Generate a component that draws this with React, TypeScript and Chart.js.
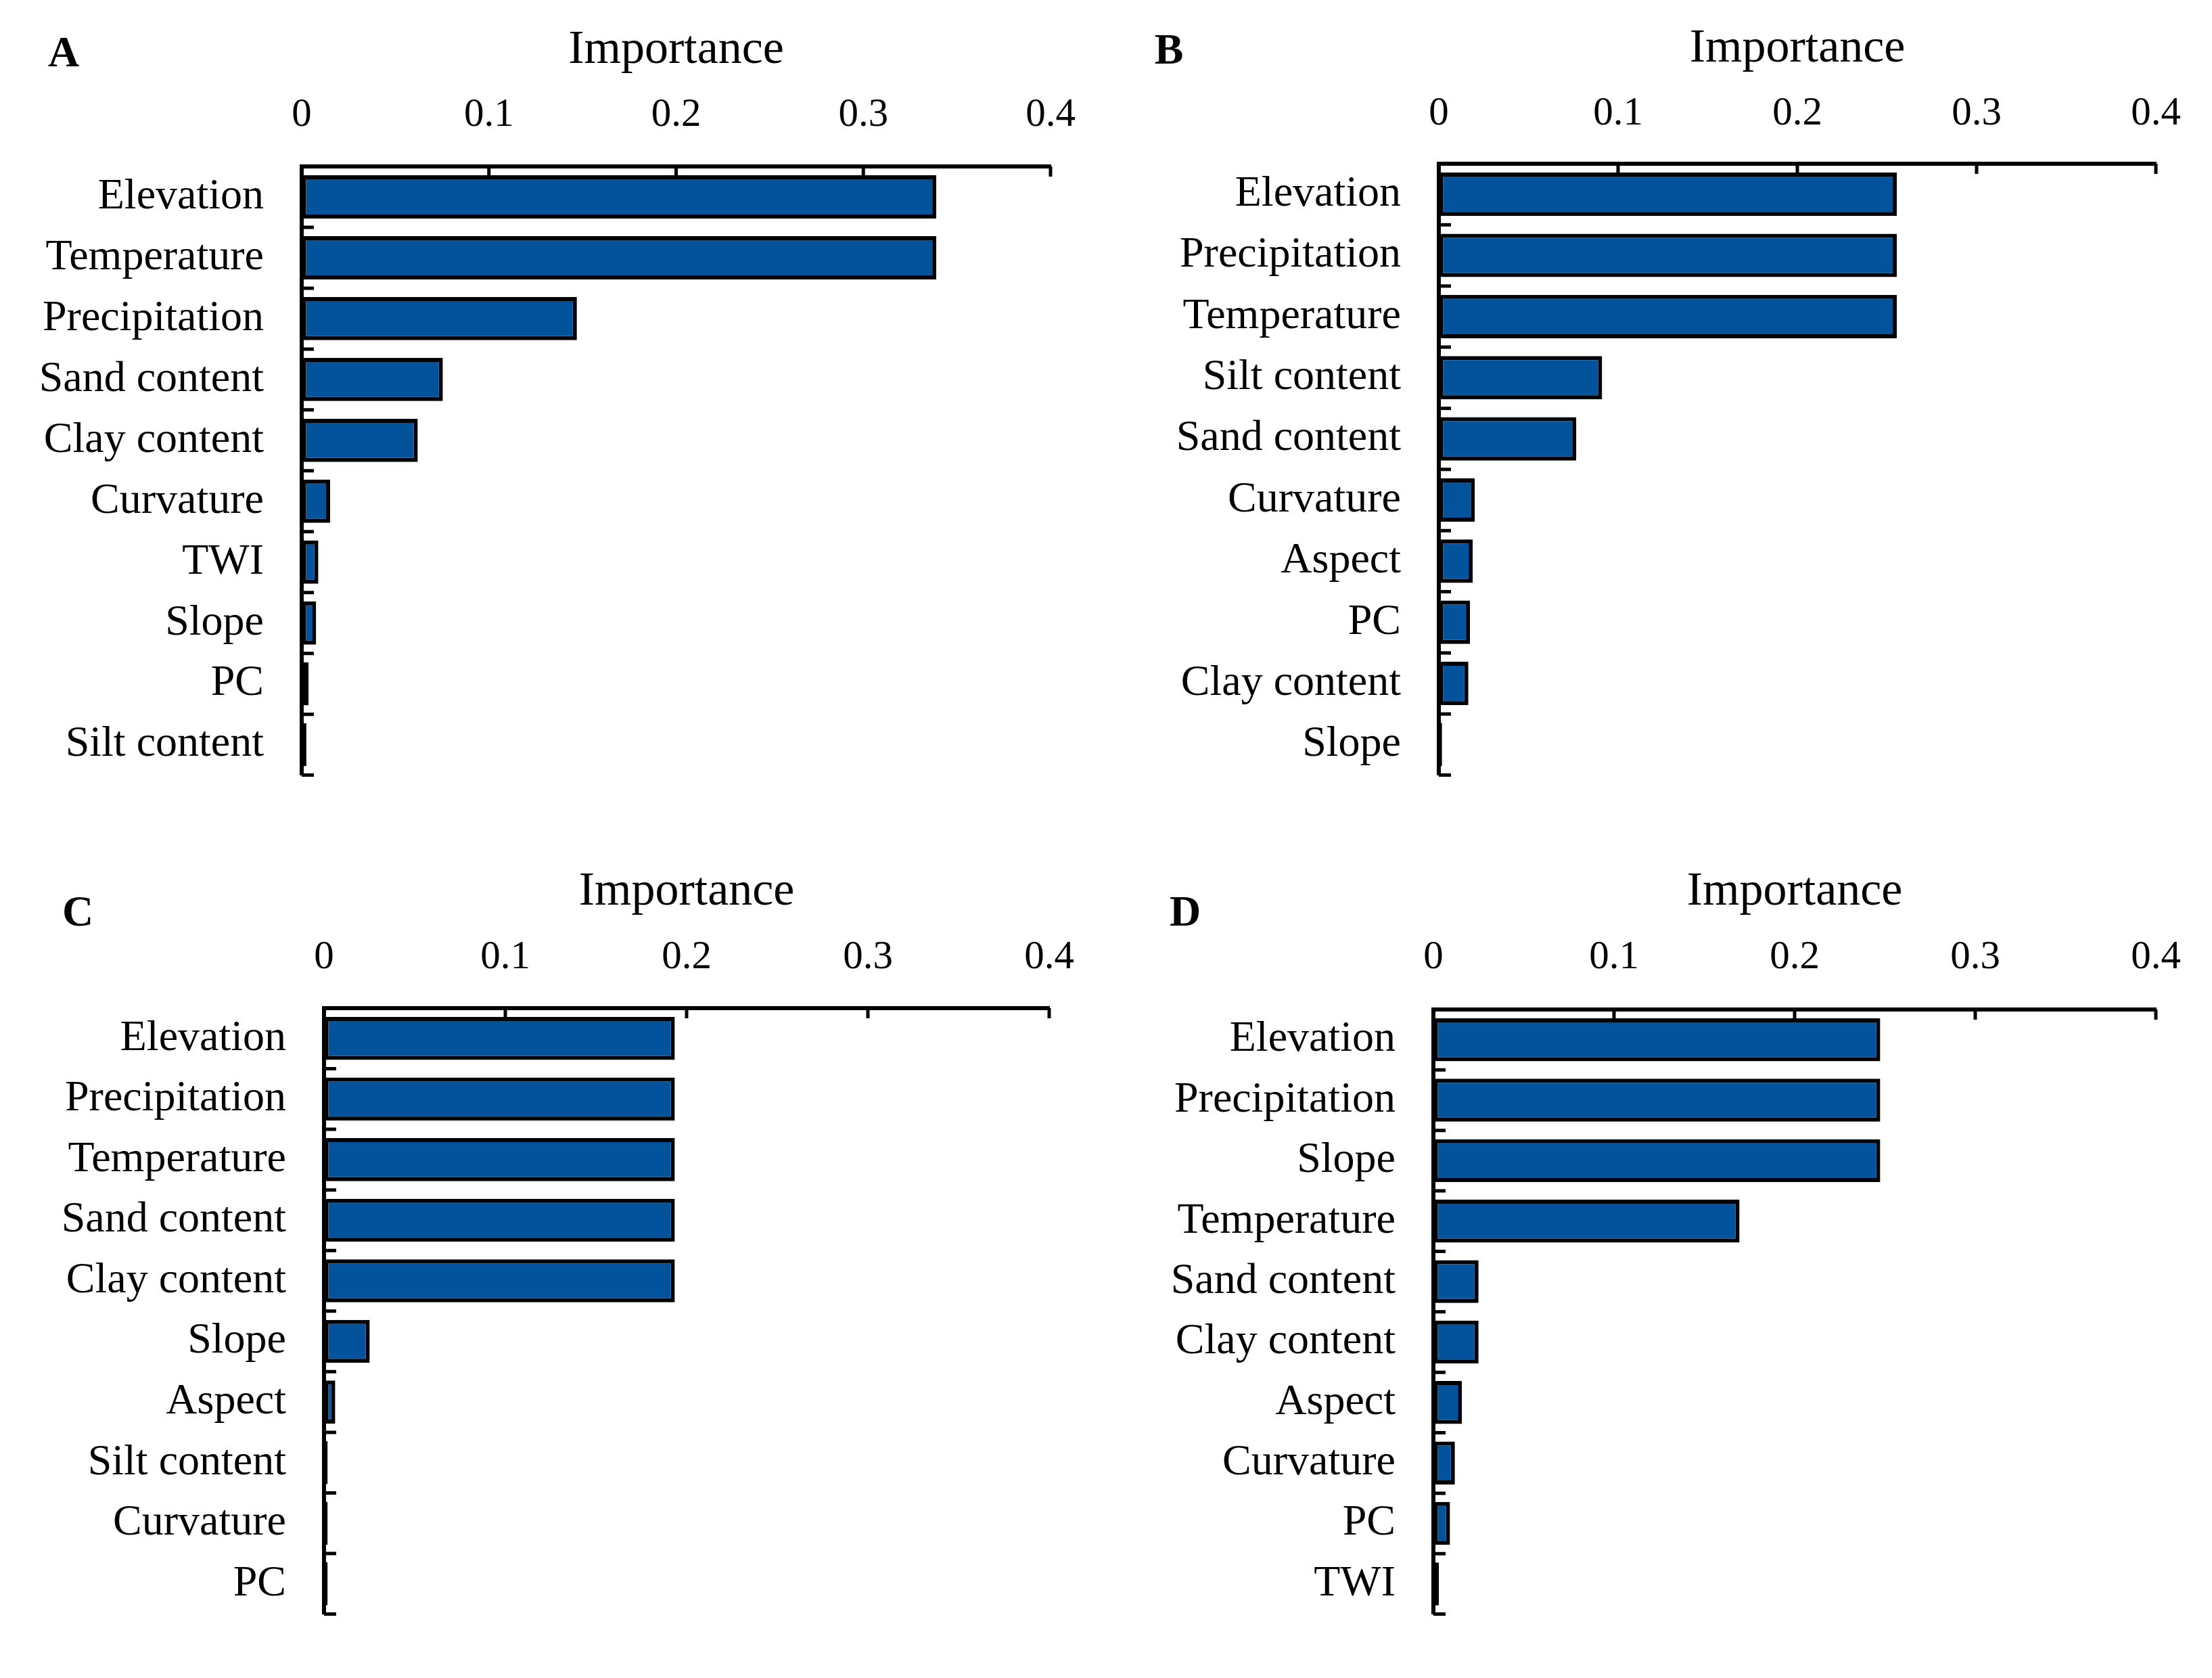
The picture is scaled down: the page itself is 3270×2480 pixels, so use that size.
import React, { useEffect, useRef } from "react";
import { Chart, registerables } from "chart.js";

Chart.register(...registerables);

// ---------------- data ----------------
const xTickValues = [0, 0.1, 0.2, 0.3, 0.4];
const xTickLabels = ["0", "0.1", "0.2", "0.3", "0.4"];
const axisTitle = "Importance";

const catsA = ["Elevation", "Temperature", "Precipitation", "Sand content", "Clay content", "Curvature", "TWI", "Slope", "PC", "Silt content"];
const valsA = [0.339, 0.339, 0.147, 0.0754, 0.062, 0.0152, 0.0089, 0.0077, 0.0037, 0.0025];

const catsB = ["Elevation", "Precipitation", "Temperature", "Silt content", "Sand content", "Curvature", "Aspect", "PC", "Clay content", "Slope"];
const valsB = [0.2555, 0.2555, 0.2555, 0.0911, 0.0767, 0.0201, 0.0189, 0.0174, 0.0165, 0.0018];

const catsC = ["Elevation", "Precipitation", "Temperature", "Sand content", "Clay content", "Slope", "Aspect", "Silt content", "Curvature", "PC"];
const valsC = [0.1935, 0.1935, 0.1935, 0.1935, 0.1935, 0.0252, 0.0062, 0.002, 0.002, 0.002];

const catsD = ["Elevation", "Precipitation", "Slope", "Temperature", "Sand content", "Clay content", "Aspect", "Curvature", "PC", "TWI"];
const valsD = [0.2474, 0.2474, 0.2474, 0.1695, 0.025, 0.025, 0.0158, 0.0119, 0.0092, 0.003];

const panelLetters = ["A", "B", "C", "D"];

// ---------------- layout / style ----------------
const FONT = "'Liberation Serif', 'Times New Roman', serif";
const BAR_COLOR = "#02539C";

type Panel = {
  letter: string;
  cats: string[];
  vals: number[];
  box: { x: number; y: number; w: number; h: number };
  plot: { l: number; t: number; r: number; b: number };
  titleY: number;
  tickY: number;
  letterPos: { x: number; y: number };
};

const panels: Panel[] = [
  { letter: panelLetters[0], cats: catsA, vals: valsA, box: { x: 0, y: 0, w: 1635, h: 1240 }, plot: { l: 446, t: 246, r: 1553, b: 1168 }, titleY: 75, tickY: 170, letterPos: { x: 94, y: 77 } },
  { letter: panelLetters[1], cats: catsB, vals: valsB, box: { x: 1635, y: 0, w: 1635, h: 1240 }, plot: { l: 2127, t: 242, r: 3187, b: 1166 }, titleY: 73, tickY: 168, letterPos: { x: 1728, y: 73 } },
  { letter: panelLetters[2], cats: catsC, vals: valsC, box: { x: 0, y: 1240, w: 1635, h: 1240 }, plot: { l: 479, t: 1490, r: 1551, b: 2437 }, titleY: 1319, tickY: 1415, letterPos: { x: 115, y: 1347 } },
  { letter: panelLetters[3], cats: catsD, vals: valsD, box: { x: 1635, y: 1240, w: 1635, h: 1240 }, plot: { l: 2119, t: 1492, r: 3187, b: 2415 }, titleY: 1319, tickY: 1415, letterPos: { x: 1752, y: 1347 } },
];

const TICK_FONT = 59;
const TITLE_FONT = 70;
const LABEL_FONT = 64;
const LINE_W = 6;

const innerTicks = {
  id: "innerTicks",
  beforeDatasetsDraw(chart: any) {
    const { ctx, chartArea, scales } = chart;
    const xs = scales.x;
    const ys = scales.y;
    ctx.save();
    ctx.strokeStyle = "#000";
    ctx.lineWidth = 5;
    ctx.lineCap = "butt";
    ctx.beginPath();
    xs.ticks.forEach((t: any) => {
      if (t.value === 0) return;
      const px = xs.getPixelForValue(t.value);
      ctx.moveTo(px, chartArea.top);
      ctx.lineTo(px, chartArea.top + 15);
    });
    const n = ys.ticks.length;
    for (let i = 1; i <= n; i++) {
      const py = ys.getPixelForValue(i - 0.5);
      ctx.moveTo(chartArea.left, py);
      ctx.lineTo(chartArea.left + 18, py);
    }
    ctx.stroke();
    ctx.restore();
  },
};

function PanelChart({ p }: { p: Panel }) {
  const ref = useRef<HTMLCanvasElement | null>(null);
  useEffect(() => {
    if (!ref.current) return;
    const plotTop = p.plot.t - p.box.y;
    const plotLeft = p.plot.l - p.box.x;
    const tickLH = TICK_FONT * 1.2;
    const titleLH = TITLE_FONT * 1.2;
    const tickPad = p.plot.t - p.tickY - tickLH / 2;
    const titlePad = p.titleY - p.box.y - titleLH / 2;
    const chart = new Chart(ref.current, {
      type: "bar",
      data: {
        labels: p.cats,
        datasets: [
          {
            data: p.vals,
            backgroundColor: BAR_COLOR,
            borderColor: "#000",
            borderWidth: LINE_W,
            borderSkipped: false,
            barPercentage: 0.71,
            categoryPercentage: 1,
          },
        ],
      },
      options: {
        indexAxis: "y",
        animation: false,
        responsive: false,
        devicePixelRatio: 1,
        layout: {
          padding: { left: 0, top: 0, right: p.box.x + p.box.w - p.plot.r, bottom: p.box.y + p.box.h - p.plot.b },
        },
        plugins: { legend: { display: false }, tooltip: { enabled: false } },
        scales: {
          x: {
            position: "top",
            min: 0,
            max: 0.4,
            afterBuildTicks: (s: any) => {
              s.ticks = xTickValues.map((v) => ({ value: v }));
            },
            afterFit: (s: any) => {
              s.height = plotTop;
            },
            ticks: {
              callback: (_v: any, i: number) => xTickLabels[i],
              padding: tickPad,
              maxRotation: 0,
              font: { family: FONT, size: TICK_FONT },
              color: "#000",
            },
            grid: { drawOnChartArea: false, drawTicks: false },
            border: { display: true, color: "#000", width: LINE_W },
            title: {
              display: true,
              text: axisTitle,
              color: "#000",
              font: { family: FONT, size: TITLE_FONT },
              padding: { top: titlePad, bottom: 0 },
            },
          },
          y: {
            afterFit: (s: any) => {
              s.width = plotLeft;
            },
            ticks: {
              autoSkip: false,
              padding: 56,
              font: { family: FONT, size: LABEL_FONT },
              color: "#000",
            },
            grid: { drawOnChartArea: false, drawTicks: false },
            border: { display: true, color: "#000", width: LINE_W },
          },
        },
      } as any,
      plugins: [innerTicks],
    });
    return () => chart.destroy();
  }, [p]);
  return (
    <canvas
      ref={ref}
      width={p.box.w}
      height={p.box.h}
      style={{ position: "absolute", left: p.box.x, top: p.box.y, width: p.box.w, height: p.box.h }}
    />
  );
}

export default function App() {
  return (
    <div style={{ position: "absolute", left: 0, top: 0, width: 3270, height: 2480, background: "#fff", overflow: "hidden" }}>
      {panels.map((p) => (
        <PanelChart key={p.letter} p={p} />
      ))}
      {panels.map((p) => (
        <div
          key={"L" + p.letter}
          style={{
            position: "absolute",
            left: p.letterPos.x,
            top: p.letterPos.y,
            transform: "translate(-50%, -50%)",
            fontFamily: FONT,
            fontWeight: "bold",
            fontSize: 64,
            lineHeight: 1,
            color: "#000",
          }}
        >
          {p.letter}
        </div>
      ))}
    </div>
  );
}
